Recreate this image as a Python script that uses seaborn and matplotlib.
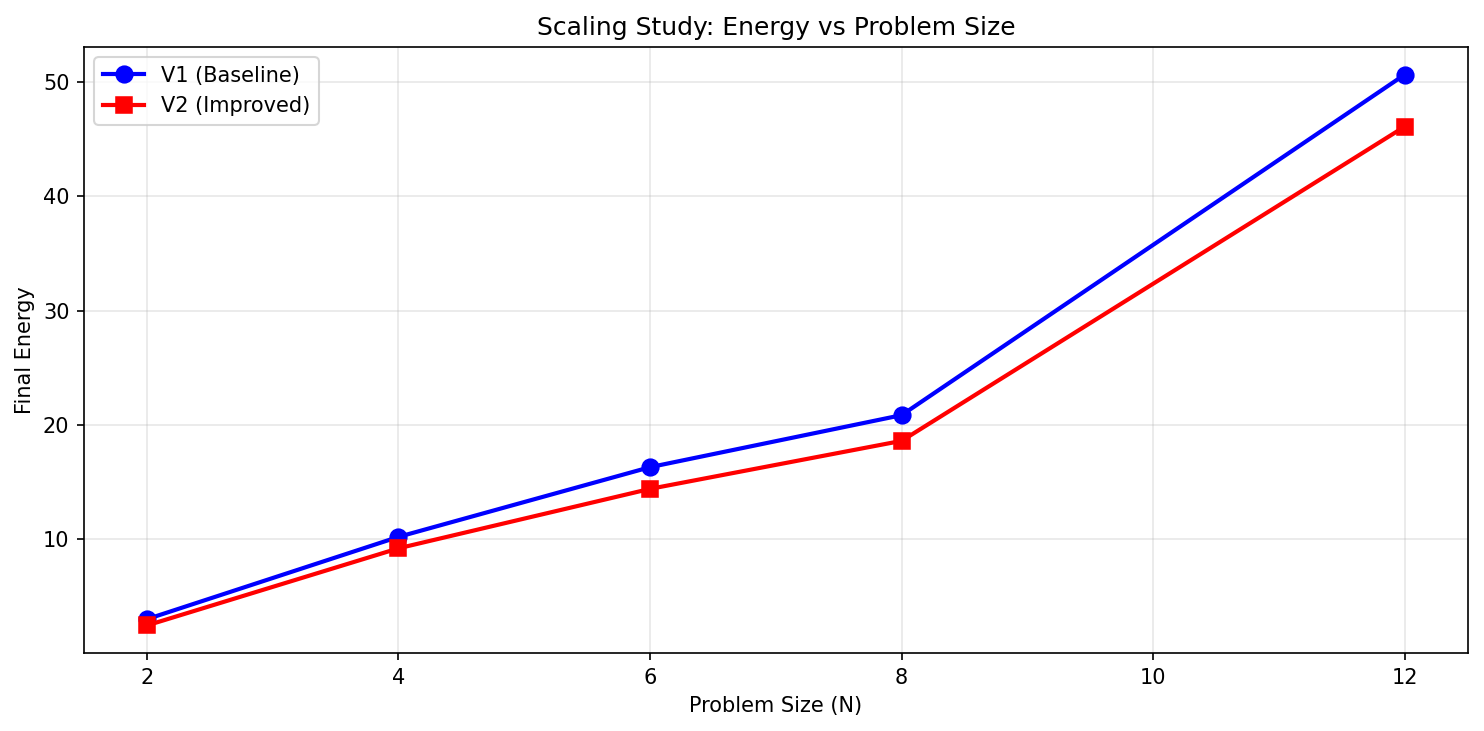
import matplotlib
matplotlib.use("Agg")
import matplotlib.pyplot as plt
import seaborn as sns
import pandas as pd

sizes = [2, 4, 6, 8, 12]
v1_energy = [3.0, 10.2, 16.3, 20.85, 50.65]
v2_energy = [2.45, 9.2, 14.4, 18.6, 46.1]
x_ticks = [2, 4, 6, 8, 10, 12]

df1 = pd.DataFrame({"N": sizes, "E": v1_energy})
df2 = pd.DataFrame({"N": sizes, "E": v2_energy})

fig, ax = plt.subplots(figsize=(1484/150, 731/150), dpi=150)
fig.subplots_adjust(left=0.0566, right=0.989, top=0.9357, bottom=0.1067)

sns.lineplot(data=df1, x="N", y="E", ax=ax, color="blue", marker="o",
             markersize=8, linewidth=2, markeredgecolor="blue", label="V1 (Baseline)")
sns.lineplot(data=df2, x="N", y="E", ax=ax, color="red", marker="s",
             markersize=8, linewidth=2, markeredgecolor="red", label="V2 (Improved)")

ax.set_xticks(x_ticks)
ax.set_xlabel("Problem Size (N)")
ax.set_ylabel("Final Energy")
ax.set_title("Scaling Study: Energy vs Problem Size")
ax.grid(True, alpha=0.3)
ax.legend(loc="upper left")

fig.savefig("out.png", dpi=150)
